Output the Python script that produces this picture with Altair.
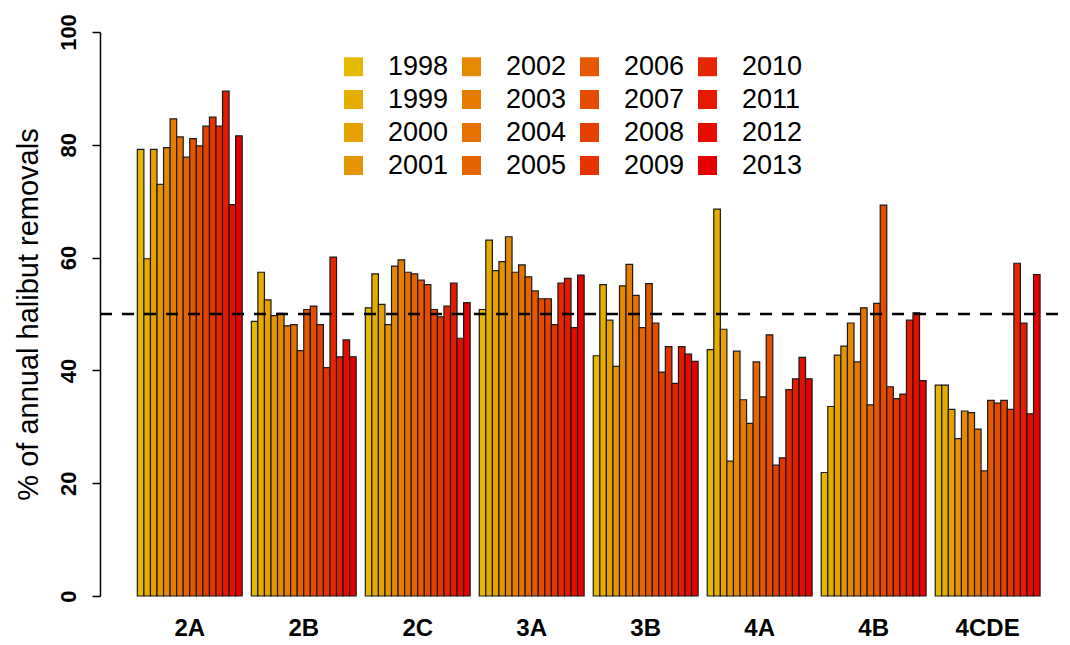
import altair as alt
import pandas as pd

regions = ["2A", "2B", "2C", "3A", "3B", "4A", "4B", "4CDE"]
years = [str(y) for y in range(1998, 2014)]

v_2A = [79.2, 59.8, 79.2, 73.0, 79.5, 84.6, 81.4, 77.8, 81.1, 79.8, 83.3, 84.9, 83.3, 89.5, 69.4, 81.6]
v_2B = [48.7, 57.4, 52.5, 49.7, 50.1, 47.9, 48.1, 43.5, 50.8, 51.4, 48.1, 40.5, 60.1, 42.4, 45.4, 42.4]
v_2C = [51.1, 57.1, 51.7, 48.1, 58.5, 59.6, 57.4, 57.1, 56.0, 55.2, 50.8, 49.5, 51.4, 55.5, 45.7, 52.0]
v_3A = [50.8, 63.1, 57.7, 59.3, 63.7, 57.4, 58.7, 56.6, 54.1, 52.7, 52.7, 48.1, 55.5, 56.3, 47.6, 56.9]
v_3B = [42.6, 55.2, 48.9, 40.7, 55.0, 58.8, 53.3, 47.6, 55.4, 48.4, 39.7, 44.2, 37.7, 44.2, 42.9, 41.6]
v_4A = [43.7, 68.6, 47.3, 23.9, 43.4, 34.8, 30.6, 41.5, 35.3, 46.3, 23.2, 24.5, 36.6, 38.5, 42.3, 38.5]
v_4B = [21.9, 33.6, 42.7, 44.3, 48.4, 41.5, 51.1, 33.9, 51.9, 69.3, 37.1, 35.0, 35.8, 48.9, 50.2, 38.2]
v_4CDE = [37.4, 37.4, 33.1, 27.9, 32.8, 32.5, 29.6, 22.2, 34.7, 34.2, 34.7, 33.1, 59.0, 48.4, 32.3, 57.0]
values = [v_2A, v_2B, v_2C, v_3A, v_3B, v_4A, v_4B, v_4CDE]

colors = ["#E6B800", "#E6AC00", "#E6A000", "#E69400", "#E68800", "#E67C00", "#E67000", "#E66400",
          "#E65800", "#E64C00", "#E64000", "#E63300", "#E62600", "#E61A00", "#E60D00", "#E60000"]

threshold = 50

rows = []
for reg, vals in zip(regions, values):
    for yr, v in zip(years, vals):
        rows.append({"region": reg, "year": yr, "pct": v})
df = pd.DataFrame(rows)

W, H = 962, 564
FONT = "Liberation Sans"

bars = alt.Chart(df).mark_bar(stroke="#1a1a1a", strokeWidth=1.2).encode(
    x=alt.X("region:N", sort=regions,
            scale=alt.Scale(paddingInner=0.08, paddingOuter=0.26, align=0.63),
            axis=alt.Axis(title=None, domain=False, ticks=False, labelAngle=0,
                          labelFont=FONT, labelFontSize=24, labelFontWeight="bold",
                          labelColor="black", labelPadding=20)),
    xOffset=alt.XOffset("year:N", sort=years,
                        scale=alt.Scale(paddingInner=0, paddingOuter=0)),
    y=alt.Y("pct:Q", scale=alt.Scale(domain=[0, 100], nice=False),
            axis=alt.Axis(title="% of annual halibut removals", values=[0, 20, 40, 60, 80, 100],
                          grid=False, domainColor="black", domainWidth=1.5,
                          tickColor="black", tickWidth=1.5, tickSize=8,
                          labelAngle=270, labelAlign="center", labelBaseline="bottom",
                          labelFont=FONT, labelFontSize=22, labelFontWeight="bold",
                          labelColor="black", labelPadding=12,
                          titleFont=FONT, titleFontSize=29, titleFontWeight="normal",
                          titleColor="black", titleAngle=270, titleAlign="center",
                          titleBaseline="middle", titleX=-72, titleY=282)),
    color=alt.Color("year:N",
                    scale=alt.Scale(domain=years, range=colors),
                    legend=alt.Legend(title=None, orient="none", legendX=240, legendY=21,
                                      columns=4, symbolType="square", symbolSize=361,
                                      symbolStrokeWidth=0, symbolOpacity=1,
                                      labelFont=FONT, labelFontSize=27, labelColor="black",
                                      labelOffset=21, columnPadding=9, rowPadding=5,
                                      padding=0)),
)

rule = alt.Chart(pd.DataFrame({"t": [threshold]})).mark_rule(
    color="black", strokeWidth=2.5, strokeDash=[12, 10]
).encode(
    y="t:Q",
    x=alt.value(0),
    x2=alt.value(W),
)

chart = alt.layer(bars, rule).properties(
    width=W, height=H,
    background="white",
    autosize=alt.AutoSizeParams(type="none"),
    padding={"left": 92, "top": 24, "right": 0, "bottom": 45},
).configure_view(strokeOpacity=0, strokeWidth=0)

chart.save("out.html", embed_options={"renderer": "svg", "actions": False})
